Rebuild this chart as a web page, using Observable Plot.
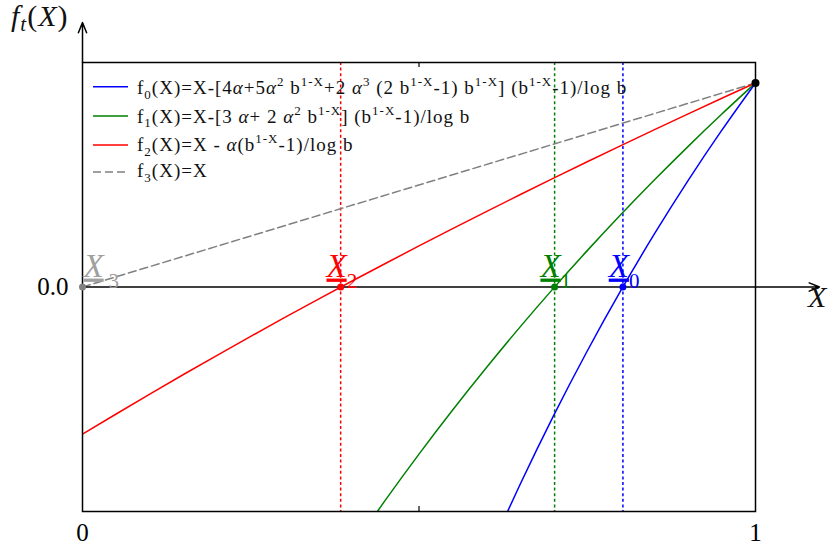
<!DOCTYPE html>
<html><head><meta charset="utf-8">
<script src="https://cdn.jsdelivr.net/npm/d3@7"></script>
<script src="https://cdn.jsdelivr.net/npm/@observablehq/plot@0.6"></script>
<style>body{margin:0;background:#fff} svg{display:block}</style>
</head><body><div id="chart"></div>
<script>
// ---- data ----
const xsF0 = [0.6,0.625,0.65,0.675,0.7,0.75,0.8,0.85,0.9,0.95,1];
const f0   = [-1.3315,-1.1470,-0.9688,-0.7966,-0.6302,-0.3136,-0.0170,0.2611,0.5225,0.7683,1];
const xsF1 = [0.4,0.425,0.45,0.5,0.55,0.6,0.65,0.7,0.75,0.8,0.85,0.9,0.95,1];
const f1   = [-1.2799,-1.1612,-1.0445,-0.8189,-0.6028,-0.3956,-0.1966,-0.0055,0.1782,0.3550,0.5252,0.6892,0.8474,1];
const xsF2 = [0,0.05,0.1,0.15,0.2,0.25,0.3,0.35,0.4,0.45,0.5,0.55,0.6,0.65,0.7,0.75,0.8,0.85,0.9,0.95,1];
const f2   = [-0.7213,-0.6222,-0.5247,-0.4288,-0.3346,-0.2418,-0.1505,-0.0606,0.0280,0.1152,0.2012,0.2860,0.3695,0.4519,0.5333,0.6135,0.6927,0.7710,0.8482,0.9246,1];
const xsF3 = [0,1];
const f3   = [0,1];
const seriesColors = ["#0000ff","#008000","#ff0000","#808080"];
const rootNames = ["0","1","2","3"];
const rootX = [0.803,0.7015,0.3836,0];
const rootLabelColors = ["#0000ff","#008000","#ff0000","#a0a0a0"];
const endPoint = [{x:1, y:1}];
const legendLabels = [
  "f_{0}(X)=X-[4α+5α^{2} b^{1-X}+2 α^{3} (2 b^{1-X}-1) b^{1-X}] (b^{1-X}-1)/log b",
  "f_{1}(X)=X-[3 α+ 2 α^{2} b^{1-X}] (b^{1-X}-1)/log b",
  "f_{2}(X)=X - α(b^{1-X}-1)/log b",
  "f_{3}(X)=X"
];
const xTicks = [0,0.5,1];
const xTickLabels = ["0","","1"];
const yTicks = [0];
const yTickLabels = ["0.0"];
const axisArrows = [{x1:0,y1:1.1,x2:0,y2:1.296},{x1:1,y1:0,x2:1.095,y2:0}];

// ---- tables ----
const mk = (xs, ys) => xs.map((x,i) => ({x, y: ys[i]}));
const c0 = mk(xsF0,f0), c1 = mk(xsF1,f1), c2 = mk(xsF2,f2), c3 = mk(xsF3,f3);
const roots = rootNames.map((n,i) => ({name:n, x:rootX[i], color:seriesColors[i], lcolor:rootLabelColors[i]}));
const rootsMain = roots.filter(d => d.name !== "3");
const rootsEdge = roots.filter(d => d.name === "3");

const FONT = "Liberation Serif";
const W = 833, H = 545, ML = 82, MR = 78, MT = 62, MB = 34;

const plot = Plot.plot({
  width: W, height: H,
  marginLeft: ML, marginRight: MR, marginTop: MT, marginBottom: MB,
  x: {domain: [0,1], axis: null},
  y: {domain: [-1.1,1.1], axis: null},
  color: {type: "identity"},
  style: {fontFamily: FONT, fontSize: "25px", background: "#fff", overflow: "visible"},
  marks: [
    Plot.ruleX(rootsMain, {x: "x", stroke: "color", strokeWidth: 1.5, strokeDasharray: "3,2.6"}),
    Plot.line(c3, {x: "x", y: "y", stroke: seriesColors[3], strokeWidth: 1.5, strokeDasharray: "8,4", clip: true}),
    Plot.line(c2, {x: "x", y: "y", stroke: seriesColors[2], strokeWidth: 1.5, curve: "monotone-x", clip: true}),
    Plot.line(c1, {x: "x", y: "y", stroke: seriesColors[1], strokeWidth: 1.5, curve: "monotone-x", clip: true}),
    Plot.line(c0, {x: "x", y: "y", stroke: seriesColors[0], strokeWidth: 1.5, curve: "monotone-x", clip: true}),
    Plot.ruleY(yTicks, {stroke: "black", strokeWidth: 1.5}),
    Plot.frame({stroke: "black", strokeWidth: 1.5}),
    Plot.tickX([0.5], {stroke: "black", strokeWidth: 1.2, insetTop: H - MT - MB - 5}),
    Plot.tickX([0.5], {stroke: "black", strokeWidth: 1.2, insetBottom: H - MT - MB - 5}),
    Plot.arrow(axisArrows, {x1: "x1", y1: "y1", x2: "x2", y2: "y2", stroke: "black", strokeWidth: 1.5, headAngle: 44, headLength: 11}),
    Plot.axisX({ticks: xTicks, tickFormat: d => xTickLabels[xTicks.indexOf(d)], tickSize: 0, tickPadding: 12, fontSize: 25, fontFamily: FONT}),
    Plot.axisY({ticks: yTicks, tickFormat: d => yTickLabels[yTicks.indexOf(d)], tickSize: 0, tickPadding: 14, fontSize: 25, fontFamily: FONT}),
    Plot.dot(roots, {x: "x", y: 0, fill: "color", r: 3.5}),
    Plot.dot(endPoint, {x: "x", y: "y", fill: "black", r: 4}),
    Plot.text(rootsMain, {x: "x", y: 0, text: () => "X", fill: "lcolor", fontSize: 33, fontStyle: "italic", textAnchor: "end", dx: 6, dy: -21, ariaDescription: "rootX"}),
    Plot.text(rootsMain, {x: "x", y: 0, text: "name", fill: "lcolor", fontSize: 21, textAnchor: "start", dx: 6, dy: -6}),
    Plot.text(rootsEdge, {x: "x", y: 0, text: () => "X", fill: "lcolor", fontSize: 33, fontStyle: "italic", textAnchor: "start", dx: 1, dy: -21, ariaDescription: "rootX"}),
    Plot.text(rootsEdge, {x: "x", y: 0, text: "name", fill: "lcolor", fontSize: 21, textAnchor: "start", dx: 26, dy: -6})
  ]
});

document.getElementById("chart").appendChild(plot);
const svg = d3.select(plot);
svg.selectAll('g[aria-description="rootX"] text').attr("text-decoration", "underline");

// ---- rich text helper ----
function rich(textSel, str, base, small) {
  const re = /([_^])\{([^}]*)\}|([^_^]+)/g;
  let m, shift = 0;
  const push = (s, size, target, italic) => {
    const t = textSel.append("tspan").text(s).attr("font-size", size).attr("dy", target - shift);
    if (italic) t.attr("font-style", "italic");
    shift = target;
  };
  while ((m = re.exec(str))) {
    if (m[3] !== undefined) {
      m[3].split(/(α)/).filter(s => s.length).forEach(s => push(s, base, 0, s === "α"));
    } else if (m[1] === "_") {
      push(m[2], small, base * 0.25, false);
    } else {
      push(m[2], small, -base * 0.42, false);
    }
  }
}

// ---- legend ----
const legendSwatchY = [86.7, 116, 145, 172];
const legendBaseY = [94, 122.5, 151, 177];
const lg = svg.append("g").attr("font-family", FONT).attr("text-anchor", "start");
legendLabels.forEach((lab, i) => {
  lg.append("line").attr("x1", 93).attr("x2", 128).attr("y1", legendSwatchY[i]).attr("y2", legendSwatchY[i])
    .attr("stroke", seriesColors[i]).attr("stroke-width", 1.5)
    .attr("stroke-dasharray", i === 3 ? "8,4" : null);
  const t = lg.append("text").attr("x", 137).attr("y", legendBaseY[i]).attr("fill", "#111")
    .attr("text-anchor", "start").attr("letter-spacing", 1.0).style("white-space", "pre");
  rich(t, lab, 19, 13);
});

// ---- axis titles ----
const yt = svg.append("text").attr("x", 11).attr("y", 26).attr("text-anchor", "start")
  .attr("font-family", FONT).attr("font-size", 30).attr("letter-spacing", 1).attr("fill", "#111");
yt.append("tspan").text("f").attr("font-style", "italic");
yt.append("tspan").text("t").attr("font-style", "italic").attr("font-size", 21).attr("dy", 5);
yt.append("tspan").text("(").attr("dy", -5);
yt.append("tspan").text("X").attr("font-style", "italic");
yt.append("tspan").text(")");
svg.append("text").attr("x", 808).attr("y", 307).attr("text-anchor", "start").attr("font-family", FONT).attr("font-size", 30)
  .attr("font-style", "italic").attr("fill", "#111").text("X");
</script></body></html>
